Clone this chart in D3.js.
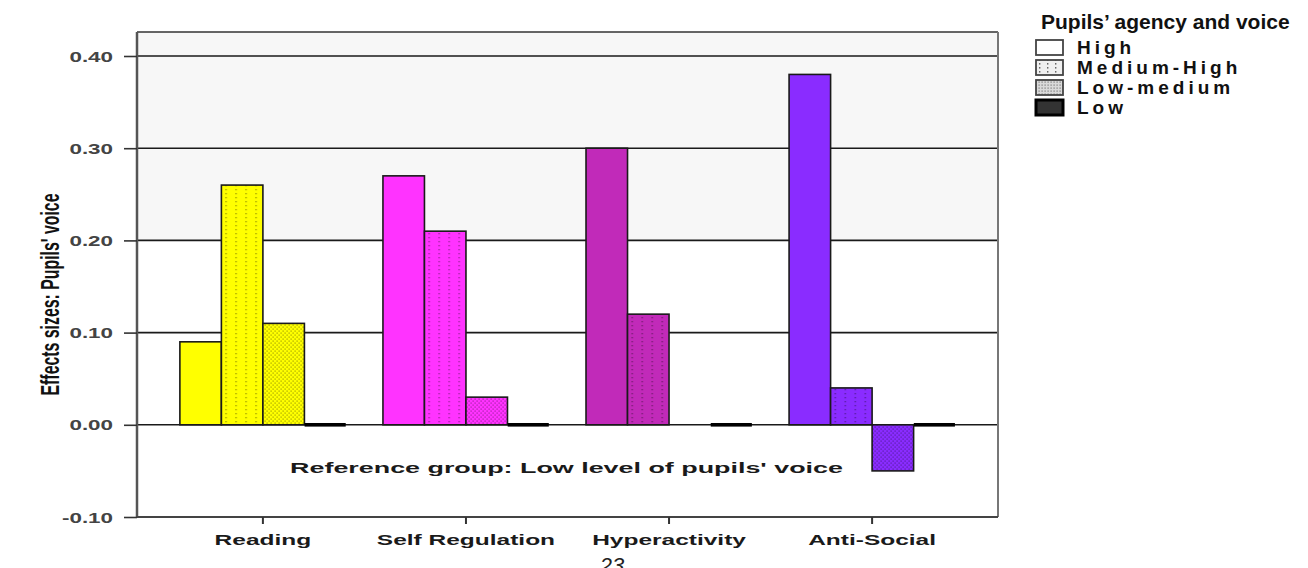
<!DOCTYPE html>
<html>
<head>
<meta charset="utf-8">
<script src="https://cdn.jsdelivr.net/npm/d3@7"></script>
<style>
  html, body { margin: 0; padding: 0; background: #ffffff; }
  svg { display: block; }
  text { font-family: "Liberation Sans", Arial, sans-serif; }
</style>
</head>
<body>
<svg id="chart" width="1308" height="568"></svg>
<script>
// ---------- data ----------
const categories = ["Reading", "Self Regulation", "Hyperactivity", "Anti-Social"];
const groups = ["High", "Medium-High", "Low-medium", "Low"];
const highValues = [0.09, 0.27, 0.30, 0.38];
const mediumHighValues = [0.26, 0.21, 0.12, 0.04];
const lowMediumValues = [0.11, 0.03, null, -0.05];
const lowValues = [0.00, 0.00, 0.00, 0.00];
const yTickValues = [-0.10, 0.00, 0.10, 0.20, 0.30, 0.40];
const yTickLabels = ["-0.10", "0.00", "0.10", "0.20", "0.30", "0.40"];
const categoryColors = ["#ffff00", "#ff33ff", "#c12ab9", "#8a2cff"];
const legendTitle = "Pupils\u2019 agency and voice";
const referenceNote = "Reference group: Low level of pupils' voice";
const yAxisTitle = "Effects sizes: Pupils' voice";
const pageNumber = "23";

const seriesValues = [highValues, mediumHighValues, lowMediumValues, lowValues];

// ---------- layout ----------
const plot = { left: 137, right: 998, top: 32, bottom: 517 };
const svg = d3.select("#chart");

const x = d3.scaleBand().domain(categories)
  .range([plot.left, plot.right]).paddingInner(0).paddingOuter(0.12);
const xSub = d3.scaleBand().domain(groups)
  .range([0, x.bandwidth()]).paddingInner(0).paddingOuter(0.446);
const y = d3.scaleLinear().domain([-0.10, 0.40]).range([517, 56]);

// ---------- patterns ----------
const defs = svg.append("defs");
categoryColors.forEach((c, i) => {
  const dark = d3.color(c).darker(2.2).formatHex();
  const p1 = defs.append("pattern").attr("id", "mh" + i)
    .attr("patternUnits", "userSpaceOnUse").attr("width", 10).attr("height", 4)
    .attr("x", x(categories[i]) + xSub("Medium-High"));
  p1.append("rect").attr("width", 10).attr("height", 4).attr("fill", c);
  p1.append("rect").attr("x", 4).attr("y", 1).attr("width", 1.3).attr("height", 1.3)
    .attr("fill", dark).attr("opacity", 0.75);
  const p2 = defs.append("pattern").attr("id", "lm" + i)
    .attr("patternUnits", "userSpaceOnUse").attr("width", 4).attr("height", 4);
  p2.append("rect").attr("width", 4).attr("height", 4).attr("fill", c);
  p2.append("rect").attr("x", 0.5).attr("y", 0.5).attr("width", 1.2).attr("height", 1.2)
    .attr("fill", dark).attr("opacity", 0.7);
  p2.append("rect").attr("x", 2.5).attr("y", 2.5).attr("width", 1.2).attr("height", 1.2)
    .attr("fill", dark).attr("opacity", 0.7);
});
// legend patterns
const lp1 = defs.append("pattern").attr("id", "legMH").attr("patternUnits", "userSpaceOnUse")
  .attr("width", 8).attr("height", 4).attr("x", 1040);
lp1.append("rect").attr("width", 8).attr("height", 4).attr("fill", "#f0f0f0");
lp1.append("rect").attr("x", 4).attr("y", 1).attr("width", 1.4).attr("height", 1.6).attr("fill", "#666");
const lp2 = defs.append("pattern").attr("id", "legLM").attr("patternUnits", "userSpaceOnUse")
  .attr("width", 3).attr("height", 3);
lp2.append("rect").attr("width", 3).attr("height", 3).attr("fill", "#dadada");
lp2.append("rect").attr("x", 0.5).attr("y", 0.5).attr("width", 1.2).attr("height", 1.2).attr("fill", "#777");

// ---------- plot background ----------
svg.append("rect").attr("x", plot.left).attr("y", plot.top)
  .attr("width", plot.right - plot.left).attr("height", y(0.20) - plot.top)
  .attr("fill", "#f7f7f7");

// ---------- gridlines ----------
svg.append("g").selectAll("line").data(yTickValues.filter(v => v > -0.1))
  .join("line")
  .attr("x1", plot.left).attr("x2", plot.right)
  .attr("y1", d => y(d)).attr("y2", d => y(d))
  .attr("stroke", "#1a1a1a").attr("stroke-width", 1.6);

// ---------- bars ----------
const fills = [
  i => categoryColors[i],
  i => `url(#mh${i})`,
  i => `url(#lm${i})`,
  i => "#000"
];
const barData = [];
categories.forEach((cat, ci) => {
  groups.forEach((g, gi) => {
    const v = seriesValues[gi][ci];
    if (v === null) return;
    barData.push({ cat, ci, g, gi, v });
  });
});
svg.append("g").selectAll("rect").data(barData.filter(d => d.gi < 3)).join("rect")
  .attr("x", d => x(d.cat) + xSub(d.g))
  .attr("width", xSub.bandwidth())
  .attr("y", d => y(Math.max(0, d.v)))
  .attr("height", d => Math.abs(y(d.v) - y(0)))
  .attr("fill", d => fills[d.gi](d.ci))
  .attr("stroke", "#1a1a1a").attr("stroke-width", 1.6);
// "Low" reference group: zero-height bars drawn as a heavy line
svg.append("g").selectAll("rect").data(barData.filter(d => d.gi === 3)).join("rect")
  .attr("x", d => x(d.cat) + xSub(d.g) + 1)
  .attr("width", xSub.bandwidth() - 2)
  .attr("y", d => y(Math.max(0, d.v)) - 1)
  .attr("height", d => Math.abs(y(d.v) - y(0)) + 2)
  .attr("fill", "#000")
  .attr("stroke", "#000").attr("stroke-width", 1.6);

// ---------- frame / axes ----------
const frame = svg.append("g").attr("fill", "none");
frame.append("line").attr("x1", plot.left).attr("x2", plot.right)
  .attr("y1", plot.top).attr("y2", plot.top).attr("stroke", "#333").attr("stroke-width", 1.5);
frame.append("line").attr("x1", plot.right).attr("x2", plot.right)
  .attr("y1", plot.top).attr("y2", plot.bottom).attr("stroke", "#777").attr("stroke-width", 2);

const yAxis = svg.append("g").attr("transform", `translate(${plot.left},0)`)
  .call(d3.axisLeft(y).tickValues(yTickValues)
    .tickFormat((d, i) => yTickLabels[i])
    .tickSize(13).tickPadding(10));
yAxis.select(".domain").attr("d", `M0,${plot.top}V${plot.bottom}`)
  .attr("stroke", "#555").attr("stroke-width", 2.5);
yAxis.selectAll(".tick line").attr("stroke", "#333").attr("stroke-width", 1.6);
yAxis.selectAll(".tick text")
  .attr("fill", "#444").attr("font-size", 14).attr("font-weight", "bold")
  .attr("x", null).attr("dy", "0.36em")
  .attr("transform", "translate(-24,0) scale(1.6,1)")
  .attr("text-anchor", "end");

const xAxis = svg.append("g").attr("transform", `translate(0,${plot.bottom})`)
  .call(d3.axisBottom(x).tickSize(7).tickPadding(10));
xAxis.select(".domain").attr("d", `M${plot.left},0H${plot.right}`)
  .attr("stroke", "#444").attr("stroke-width", 2);
xAxis.selectAll(".tick line").attr("stroke", "#333").attr("stroke-width", 2);
xAxis.selectAll(".tick text")
  .attr("fill", "#1a1a1a").attr("font-size", 14).attr("font-weight", "bold")
  .attr("y", null).attr("dy", null)
  .attr("transform", "translate(0,28) scale(1.75,1)");

// ---------- annotations ----------
svg.append("text")
  .attr("transform", `translate(${(plot.left + plot.right) / 2 - 1},${y(-0.05) + 2}) scale(1.92,1)`)
  .attr("text-anchor", "middle").attr("font-size", 14).attr("font-weight", "bold")
  .attr("fill", "#1a1a1a").text(referenceNote);

svg.append("text")
  .attr("transform", `translate(59,${(plot.top + plot.bottom) / 2 + 20}) rotate(-90)`)
  .attr("text-anchor", "middle")
  .attr("font-family", "'Liberation Sans Narrow', 'DejaVu Sans Condensed', sans-serif")
  .attr("font-size", 25).attr("font-weight", "bold").attr("fill", "#111")
  .attr("textLength", 202).attr("lengthAdjust", "spacingAndGlyphs")
  .text(yAxisTitle);

svg.append("text")
  .attr("x", 612).attr("y", 573).attr("text-anchor", "middle")
  .attr("font-family", "'Liberation Serif', serif").attr("font-style", "italic")
  .attr("font-size", 22).attr("fill", "#222").text(pageNumber);

// ---------- legend ----------
const legend = svg.append("g").attr("transform", "translate(1035,0)");
legend.append("text").attr("x", 6).attr("y", 29)
  .attr("font-size", 21).attr("font-weight", "bold").attr("fill", "#111")
  .text(legendTitle);
const legendFills = ["#ffffff", "url(#legMH)", "url(#legLM)", "#333"];
const legendRow = d3.scaleBand().domain(groups).range([38, 118]);
const li = legend.selectAll("g.item").data(groups).join("g").attr("class", "item")
  .attr("transform", d => `translate(0,${legendRow(d)})`);
li.append("rect").attr("x", 1).attr("y", 2).attr("width", 27).attr("height", 15)
  .attr("fill", (d, i) => legendFills[i])
  .attr("stroke", (d, i) => i === 3 ? "#000" : "#444")
  .attr("stroke-width", (d, i) => i === 3 ? 3 : 1.8);
li.append("text")
  .attr("x", 42).attr("y", 16)
  .attr("font-size", 19).attr("font-weight", "bold").attr("fill", "#111")
  .attr("letter-spacing", 4)
  .text(d => d);
</script>
</body>
</html>
